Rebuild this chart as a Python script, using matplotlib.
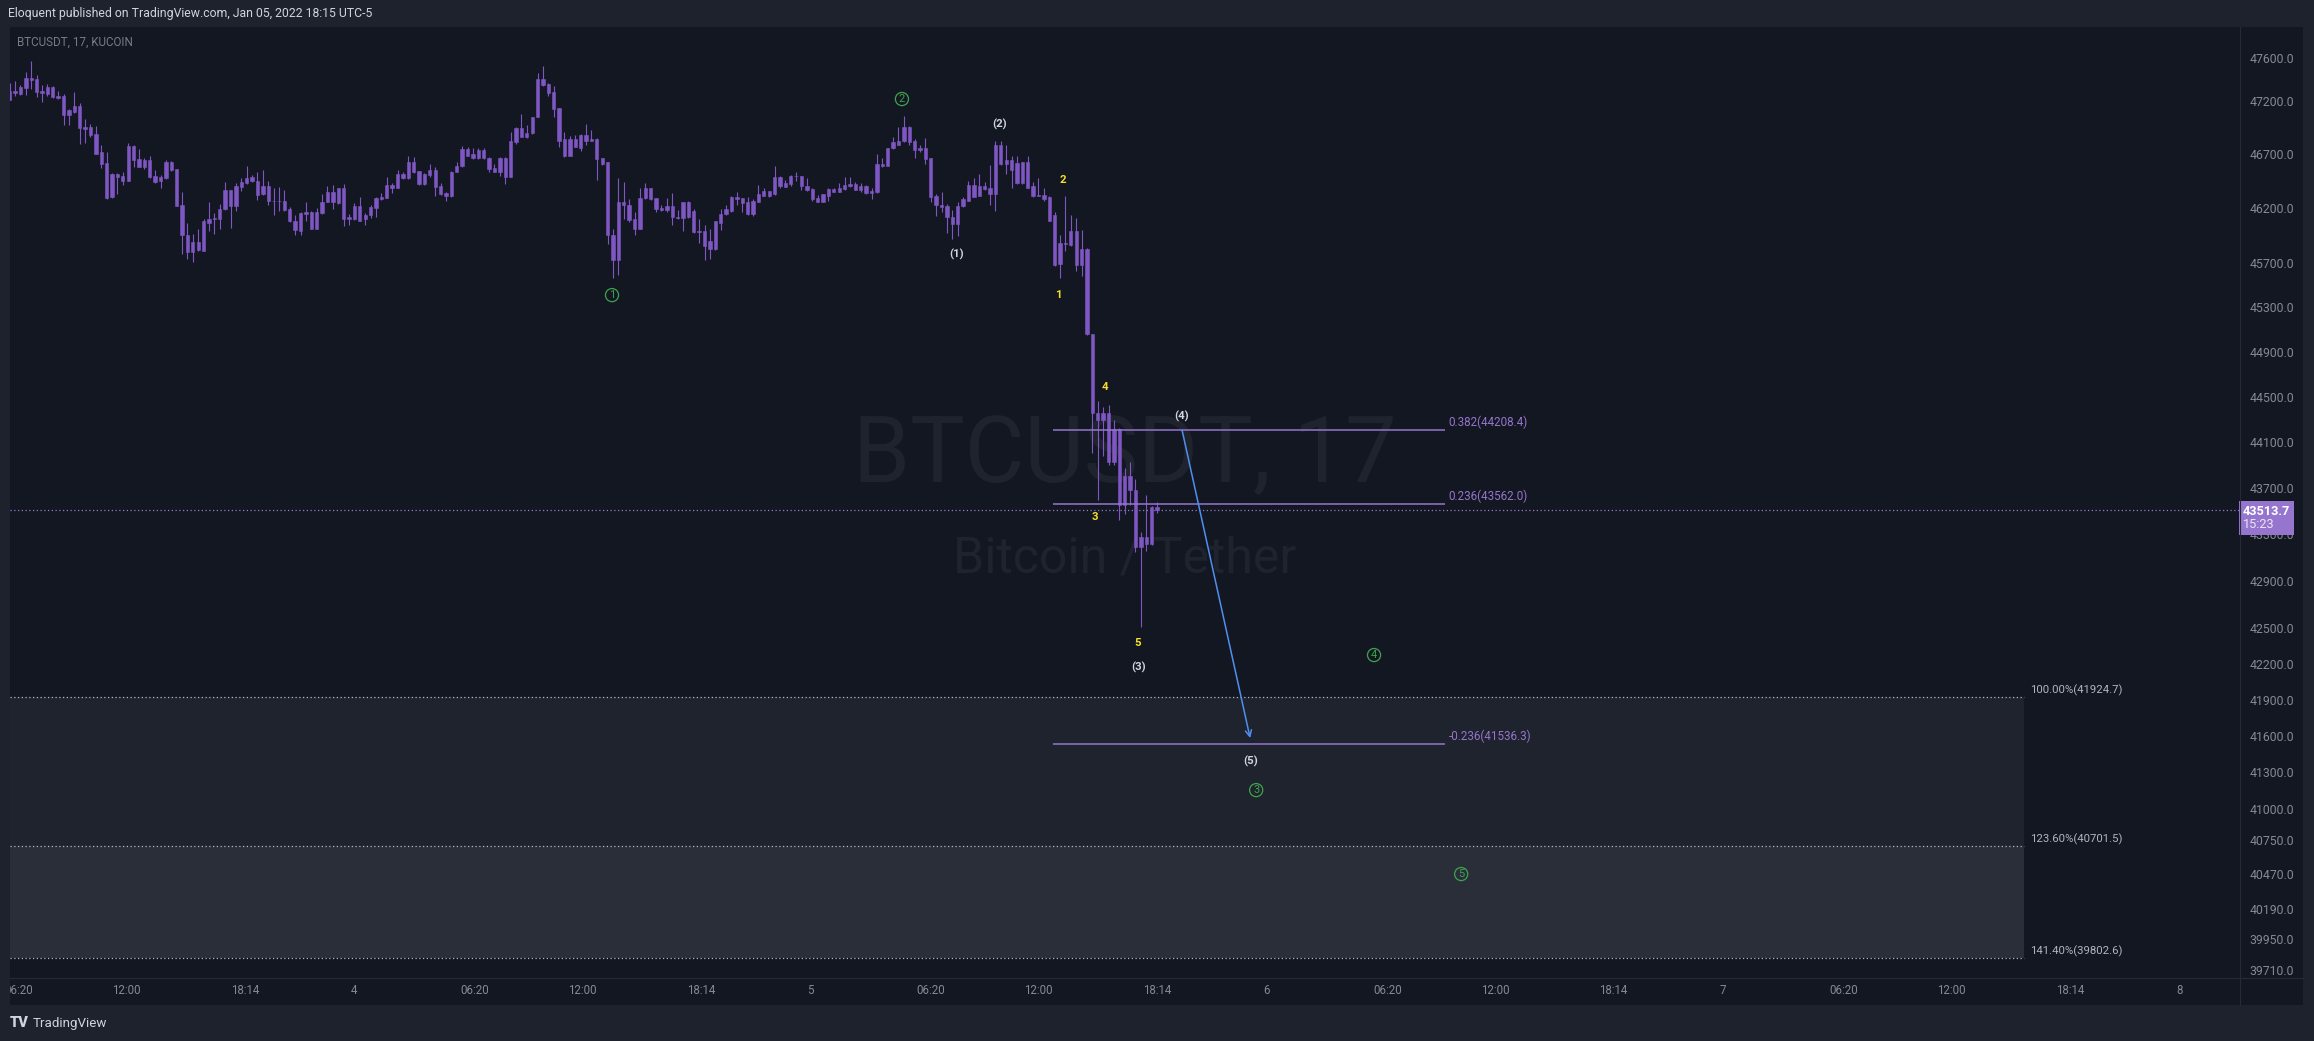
import matplotlib
matplotlib.use("Agg")
import matplotlib.pyplot as plt
import matplotlib.patches as mpatches
from matplotlib.transforms import blended_transform_factory, Bbox, TransformedBbox
from matplotlib.ticker import FixedLocator, FuncFormatter, NullLocator, NullFormatter
import numpy as np
import pandas as pd

plt.rcParams['font.family'] = ['Roboto', 'DejaVu Sans']

W, H, DPI = 2314, 1041, 100

# ---------------- data ----------------
last_bar = "2022-01-05 18:13"
bar_minutes = 17
countdown = "15:23"

opens = [47209, 47271, 47262, 47317, 47410, 47400, 47271, 47330, 47330, 47243,
         47243, 47061, 47148, 47154, 46957, 46957, 46889, 46716, 46614, 46303,
         46513, 46451, 46451, 46772, 46654, 46642, 46642, 46494, 46451, 46476,
         46624, 46559, 46235, 45958, 45804, 45816, 45813, 46069, 46100, 46106,
         46192, 46217, 46217, 46396, 46429, 46485, 46454, 46402, 46402, 46272,
         46266, 46272, 46198, 46000, 45995, 46146, 46170, 46013, 46161, 46254,
         46346, 46247, 46383, 46100, 46100, 46223, 46100, 46136, 46207, 46284,
         46291, 46383, 46383, 46482, 46482, 46624, 46543, 46420, 46506, 46550,
         46402, 46315, 46309, 46531, 46587, 46744, 46661, 46661, 46735, 46667,
         46537, 46661, 46485, 46485, 46815, 46944, 46864, 46895, 47043, 47400,
         47357, 47277, 47129, 46839, 46685, 46839, 46759, 46883, 46827, 46839,
         46661, 46624, 45958, 45730, 46260, 46235, 46106, 46007, 46291, 46383,
         46291, 46207, 46183, 46217, 46112, 46112, 46260, 46180, 45995, 45989,
         45828, 45828, 46069, 46149, 46174, 46303, 46291, 46260, 46149, 46260,
         46315, 46315, 46328, 46488, 46399, 46420, 46500, 46500, 46408, 46377,
         46291, 46260, 46315, 46377, 46352, 46377, 46408, 46420, 46365, 46405,
         46340, 46346, 46587, 46593, 46753, 46790, 46821, 46957, 46821, 46753,
         46753, 46661, 46309, 46235, 46217, 46124, 46053, 46217, 46272, 46414,
         46309, 46402, 46334, 46328, 46790, 46605, 46648, 46617, 46432, 46624,
         46402, 46321, 46321, 46303, 46137, 45689, 45884, 45865, 45989, 45828,
         45828, 45061, 44361, 44299, 44354, 43931, 44213, 43556, 43802, 43686,
         43188, 43278, 43218, 43540]
highs = [47370, 47385, 47345, 47471, 47576, 47438, 47345, 47354, 47339, 47290,
         47259, 47123, 47283, 47179, 47031, 46984, 46963, 46790, 46716, 46522,
         46522, 46537, 46806, 46790, 46744, 46661, 46685, 46550, 46506, 46648,
         46636, 46559, 46346, 46069, 45964, 46007, 46100, 46260, 46161, 46241,
         46445, 46365, 46432, 46476, 46587, 46506, 46531, 46550, 46451, 46383,
         46399, 46365, 46210, 46136, 46167, 46260, 46180, 46204, 46334, 46408,
         46414, 46389, 46426, 46149, 46247, 46303, 46161, 46235, 46303, 46340,
         46488, 46429, 46556, 46537, 46685, 46676, 46543, 46525, 46605, 46580,
         46429, 46352, 46543, 46630, 46772, 46765, 46753, 46759, 46759, 46673,
         46611, 46673, 46673, 46907, 46950, 47074, 46969, 47049, 47462, 47530,
         47370, 47333, 47135, 46907, 46870, 46882, 46889, 46984, 46926, 46846,
         46667, 46630, 46007, 46482, 46445, 46284, 46167, 46383, 46436, 46389,
         46297, 46229, 46297, 46340, 46189, 46260, 46266, 46198, 46100, 46044,
         46013, 46087, 46192, 46235, 46309, 46352, 46291, 46300, 46284, 46414,
         46389, 46358, 46593, 46500, 46460, 46506, 46537, 46500, 46476, 46383,
         46321, 46334, 46383, 46389, 46436, 46488, 46488, 46445, 46432, 46414,
         46383, 46698, 46661, 46759, 46861, 46950, 47055, 46963, 46839, 46784,
         46846, 46661, 46334, 46352, 46241, 46186, 46260, 46303, 46451, 46476,
         46519, 46445, 46599, 46827, 46827, 46790, 46679, 46679, 46630, 46679,
         46445, 46482, 46389, 46309, 46167, 45958, 46309, 46143, 46112, 46004,
         45835, 45061, 44460, 44407, 44429, 44299, 44222, 43876, 43931, 43778,
         43323, 43641, 43546, 43580]
lows = [47209, 47246, 47253, 47256, 47308, 47231, 47191, 47240, 47222, 47216,
        46969, 46975, 47086, 46799, 46805, 46861, 46698, 46568, 46284, 46297,
        46331, 46414, 46451, 46584, 46577, 46562, 46476, 46433, 46383, 46469,
        46543, 46217, 45785, 45736, 45711, 45810, 45813, 45988, 45967, 46007,
        46186, 46022, 46180, 46358, 46420, 46439, 46278, 46321, 46229, 46136,
        46177, 46177, 46075, 45952, 45958, 46081, 46013, 46013, 46152, 46254,
        46198, 46241, 46038, 46050, 46093, 46081, 46044, 46112, 46118, 46275,
        46291, 46340, 46383, 46469, 46469, 46522, 46414, 46414, 46491, 46309,
        46321, 46272, 46303, 46531, 46580, 46679, 46654, 46654, 46654, 46531,
        46531, 46494, 46420, 46485, 46799, 46864, 46852, 46892, 47043, 47333,
        47246, 47046, 46765, 46673, 46685, 46765, 46728, 46784, 46821, 46460,
        46599, 45874, 45563, 45588, 46106, 46075, 45958, 46007, 46284, 46278,
        46167, 46174, 46167, 46044, 46106, 45988, 46112, 45976, 45884, 45729,
        45736, 45822, 46000, 46137, 46167, 46229, 46167, 46143, 46130, 46260,
        46309, 46306, 46321, 46389, 46396, 46408, 46451, 46371, 46358, 46272,
        46254, 46254, 46266, 46346, 46346, 46371, 46399, 46368, 46346, 46328,
        46284, 46340, 46580, 46587, 46747, 46784, 46815, 46784, 46667, 46722,
        46605, 46254, 46130, 46167, 45976, 45915, 45945, 46210, 46266, 46300,
        46309, 46371, 46235, 46174, 46599, 46519, 46383, 46426, 46426, 46383,
        46303, 46309, 46266, 46087, 45674, 45569, 45810, 45859, 45628, 45581,
        45055, 44007, 43595, 43976, 43906, 43900, 43425, 43474, 43558, 43149,
        42510, 43158, 43209, 43486]
closes = [47286, 47293, 47330, 47410, 47394, 47283, 47293, 47262, 47231, 47228,
          47061, 47108, 47092, 46944, 46938, 46883, 46704, 46608, 46297, 46513,
          46488, 46494, 46772, 46642, 46584, 46584, 46488, 46445, 46488, 46624,
          46550, 46223, 45952, 45804, 45896, 45896, 46081, 46106, 46115, 46198,
          46365, 46365, 46405, 46439, 46482, 46451, 46321, 46328, 46272, 46266,
          46272, 46186, 46081, 46087, 46155, 46170, 46013, 46170, 46260, 46346,
          46254, 46383, 46100, 46118, 46223, 46087, 46143, 46214, 46291, 46300,
          46414, 46414, 46519, 46519, 46624, 46531, 46420, 46513, 46550, 46396,
          46328, 46340, 46537, 46593, 46744, 46685, 46704, 46735, 46661, 46562,
          46568, 46531, 46661, 46827, 46944, 46864, 46901, 47049, 47400, 47345,
          47271, 47123, 46827, 46685, 46839, 46765, 46883, 46827, 46839, 46654,
          46611, 45952, 45730, 46260, 46229, 46093, 46007, 46297, 46383, 46284,
          46198, 46183, 46217, 46118, 46124, 46260, 46118, 45982, 45982, 45853,
          45902, 46081, 46149, 46192, 46303, 46284, 46247, 46149, 46272, 46328,
          46358, 46358, 46488, 46402, 46429, 46500, 46494, 46402, 46365, 46284,
          46260, 46328, 46377, 46346, 46383, 46414, 46420, 46368, 46408, 46340,
          46358, 46605, 46605, 46753, 46815, 46827, 46957, 46815, 46738, 46735,
          46654, 46303, 46229, 46210, 46118, 46053, 46223, 46284, 46414, 46303,
          46402, 46377, 46389, 46790, 46605, 46648, 46550, 46432, 46624, 46389,
          46309, 46315, 46284, 46087, 45686, 45884, 45871, 45989, 45680, 45680,
          45061, 44354, 44299, 44354, 43931, 44213, 43550, 43802, 43680, 43188,
          43278, 43218, 43540, 43513.7]

# fib retracement (purple, short lines)
fib_levels = [0.382, 0.236, -0.236]
fib_prices = [44208.4, 43562.0, 41536.3]
fib_start = "2022-01-05 12:44"
fib_end = "2022-01-06 09:21"

# fib extension zones (dotted, shaded)
ext_levels = [100.0, 123.6, 141.4]
ext_prices = [41924.7, 40701.5, 39802.6]
ext_end = "2022-01-07 15:50"

# projection arrow
arrow_from = ("2022-01-05 19:32", 44208.4)
arrow_to = ("2022-01-05 23:07", 41582.0)

# wave labels
circle_labels = ["1", "2", "3", "4", "5"]
circle_times = ["2022-01-04 13:33", "2022-01-05 04:48", "2022-01-05 23:26",
                "2022-01-06 05:38", "2022-01-06 10:13"]
circle_prices = [45410, 47215, 41154, 42274, 40473]

paren_labels = ["(1)", "(2)", "(3)", "(4)", "(5)"]
paren_times = ["2022-01-05 07:39", "2022-01-05 09:55", "2022-01-05 17:16",
               "2022-01-05 19:32", "2022-01-05 23:07"]
paren_prices = [45783, 46982, 42173, 44332, 41393]

minor_labels = ["1", "2", "3", "4", "5"]
minor_times = ["2022-01-05 13:02", "2022-01-05 13:16", "2022-01-05 14:57",
               "2022-01-05 15:29", "2022-01-05 17:13"]
minor_prices = [45411, 46461, 43450, 44588, 42375]

y_ticks = [47600, 47200, 46700, 46200, 45700, 45300, 44900, 44500, 44100, 43700,
           43300, 42900, 42500, 42200, 41900, 41600, 41300, 41000, 40750, 40470,
           40190, 39950, 39710]
x_tick_times = ["2022-01-03 06:20", "2022-01-03 12:00", "2022-01-03 18:14",
                "2022-01-04 00:00", "2022-01-04 06:20", "2022-01-04 12:00", "2022-01-04 18:14",
                "2022-01-05 00:00", "2022-01-05 06:20", "2022-01-05 12:00", "2022-01-05 18:14",
                "2022-01-06 00:00", "2022-01-06 06:20", "2022-01-06 12:00", "2022-01-06 18:14",
                "2022-01-07 00:00", "2022-01-07 06:20", "2022-01-07 12:00", "2022-01-07 18:14",
                "2022-01-08 00:00"]
x_tick_labels = ["06:20", "12:00", "18:14", "4", "06:20", "12:00", "18:14", "5",
                 "06:20", "12:00", "18:14", "6", "06:20", "12:00", "18:14", "7",
                 "06:20", "12:00", "18:14", "8"]

view_x = ("2022-01-03 05:53", "2022-01-08 03:11")
view_y = (39645, 47896)

# ---------------- styles ----------------
FRAME = '#1e222d'
PANE = '#131722'
CANDLE = '#7e57c2'
FIB = '#9575cd'
GREY = '#b2b5be'
AXIS_TXT = '#868993'
GREEN = '#3fa34d'
YELLOW = '#f7de2a'
WHITE = '#d1d4dc'

origin = pd.Timestamp("2022-01-04")


def to_x(ts):
    return (pd.Timestamp(ts) - origin) / pd.Timedelta(days=1)


times = pd.date_range(end=pd.Timestamp(last_bar), periods=len(closes), freq=f"{bar_minutes}min")
x = np.array([(t - origin) / pd.Timedelta(days=1) for t in times])
bar_days = bar_minutes / 1440


def fx(px):
    return px / W


def fy(py):
    return 1 - py / H


fig = plt.figure(figsize=(W / DPI, H / DPI), dpi=DPI, facecolor=FRAME)
fig.patches.append(mpatches.Rectangle((fx(10), fy(1005)), fx(2303) - fx(10), fy(27) - fy(1005),
                                      transform=fig.transFigure, facecolor=PANE,
                                      edgecolor='none', zorder=-5))

ax = fig.add_axes([fx(10), fy(978), fx(2240) - fx(10), fy(27) - fy(978)])
ax.set_zorder(1)
ax.set_facecolor(PANE)
ax.set_yscale('log')
for s in ax.spines.values():
    s.set_visible(False)

fig.lines.append(plt.Line2D([fx(2240), fx(2240)], [fy(27), fy(1005)], transform=fig.transFigure,
                            color='#252a35', lw=0.8, zorder=3))
fig.lines.append(plt.Line2D([fx(10), fx(2303)], [fy(978), fy(978)], transform=fig.transFigure,
                            color='#252a35', lw=0.8, zorder=3))

x0, x1 = to_x(view_x[0]), to_x(view_x[1])
ax.set_xlim(x0, x1)
ax.set_ylim(*view_y)

# watermark
ax.text(0.5, 0.548, "BTCUSDT, 17", transform=ax.transAxes, ha='center', va='center',
        fontsize=66, color='#1f232e', zorder=0.5)
ax.text(0.5, 0.4416, "Bitcoin / Tether", transform=ax.transAxes, ha='center', va='center',
        fontsize=36, color='#1f232e', zorder=0.5)

# extension zones
xe = to_x(ext_end)
ax.fill_between([x0, xe], ext_prices[0], ext_prices[1], color='#1f232d', lw=0, zorder=1)
ax.fill_between([x0, xe], ext_prices[1], ext_prices[2], color='#2a2e39', lw=0, zorder=1)
ax.hlines(ext_prices, x0, xe, colors=GREY, linestyles=(0, (1, 2)), lw=0.9, zorder=2)
for lvl, p in zip(ext_levels, ext_prices):
    ax.annotate(f"{lvl:.2f}%({p:.1f})", (xe, p), xytext=(4, 0.5), textcoords='offset points',
                ha='left', va='bottom', color=GREY, fontsize=8.2)

# current price line
ax.axhline(closes[-1], color=FIB, ls=(0, (1, 2)), lw=0.9, zorder=2)

# candles
o = np.array(opens, dtype=float)
c = np.array(closes, dtype=float)
body_lo = np.minimum(o, c)
body_hi = np.maximum(o, c)
ax.vlines(x, lows, highs, color=CANDLE, lw=0.8, zorder=3)
ax.bar(x, body_hi - body_lo, bottom=body_lo, width=bar_days * 0.62, color=CANDLE,
       edgecolor=CANDLE, linewidth=0.4, zorder=3)

# fib retracement
fs, fe = to_x(fib_start), to_x(fib_end)
ax.hlines(fib_prices, fs, fe, colors=FIB, lw=1.1, zorder=4)
for lvl, p in zip(fib_levels, fib_prices):
    ax.annotate(f"{lvl:g}({p:.1f})", (fe, p), xytext=(3, 0.5), textcoords='offset points',
                ha='left', va='bottom', color=FIB, fontsize=8.4)

# arrow
ax.annotate('', xy=(to_x(arrow_to[0]), arrow_to[1]), xytext=(to_x(arrow_from[0]), arrow_from[1]),
            arrowprops=dict(arrowstyle='->', color='#4f8ff0', lw=1.1, shrinkA=0, shrinkB=0,
                            mutation_scale=11), zorder=5)

# wave labels
for lbl, t, p in zip(circle_labels, circle_times, circle_prices):
    ax.text(to_x(t), p, lbl, ha='center', va='center', color=GREEN, fontsize=8, zorder=6,
            bbox=dict(boxstyle='circle,pad=0.14', fc='none', ec=GREEN, lw=0.9))
for lbl, t, p in zip(paren_labels, paren_times, paren_prices):
    ax.text(to_x(t), p, lbl, ha='center', va='center', color=WHITE, fontsize=8.2,
            fontweight='bold', zorder=6)
for lbl, t, p in zip(minor_labels, minor_times, minor_prices):
    ax.text(to_x(t), p, lbl, ha='center', va='center', color=YELLOW, fontsize=8.2,
            fontweight='bold', zorder=6)

# axes
ax.yaxis.tick_right()
ax.yaxis.set_major_locator(FixedLocator(y_ticks))
ax.yaxis.set_major_formatter(FuncFormatter(lambda v, pos: f"{v:.1f}"))
ax.yaxis.set_minor_locator(NullLocator())
ax.yaxis.set_minor_formatter(NullFormatter())
ax.tick_params(axis='y', length=0, pad=7, labelsize=8.8, labelcolor=AXIS_TXT)

ax.set_xticks([to_x(t) for t in x_tick_times])
ax.set_xticklabels(x_tick_labels)
ax.tick_params(axis='x', length=0, pad=4.5, labelsize=8.3, labelcolor=AXIS_TXT)
clip = TransformedBbox(Bbox.from_extents(fx(10), 0, 1, 1), fig.transFigure)
for tl in ax.get_xticklabels():
    tl.set_clip_on(True)
    tl.set_clip_box(clip)

# price tag: box with bold price, countdown in lighter type underneath
trans = blended_transform_factory(ax.transAxes, ax.transData)
ax.annotate(f"{closes[-1]:.1f}\n ", xy=(1, closes[-1]), xycoords=trans,
            xytext=(2.2, 3.4), textcoords='offset points', ha='left', va='top', color='white',
            fontsize=9.2, fontweight='bold', linespacing=1.0, annotation_clip=False, zorder=7,
            bbox=dict(boxstyle='square,pad=0.3', fc=FIB, ec='none'))
ax.annotate(countdown, xy=(1, closes[-1]), xycoords=trans,
            xytext=(2.2, -6.0), textcoords='offset points', ha='left', va='top',
            color='#ece6f7', fontsize=9.2, annotation_clip=False, zorder=8)

# header / footer / symbol
fig.text(fx(8), fy(14), "Eloquent published on TradingView.com, Jan 05, 2022 18:15 UTC-5",
         color=WHITE, fontsize=8.8, va='center', ha='left')
fig.text(fx(17), fy(42), "BTCUSDT, 17, KUCOIN", color='#787b86', fontsize=8.4, va='center',
         ha='left', zorder=4)
fig.text(fx(10), fy(1023), "TV", color=WHITE, fontsize=10.5, fontweight='heavy', va='center',
         ha='left')
fig.text(fx(33), fy(1023), "TradingView", color=WHITE, fontsize=9.6, va='center', ha='left')

fig.savefig("out.png", dpi=DPI, facecolor=FRAME)
